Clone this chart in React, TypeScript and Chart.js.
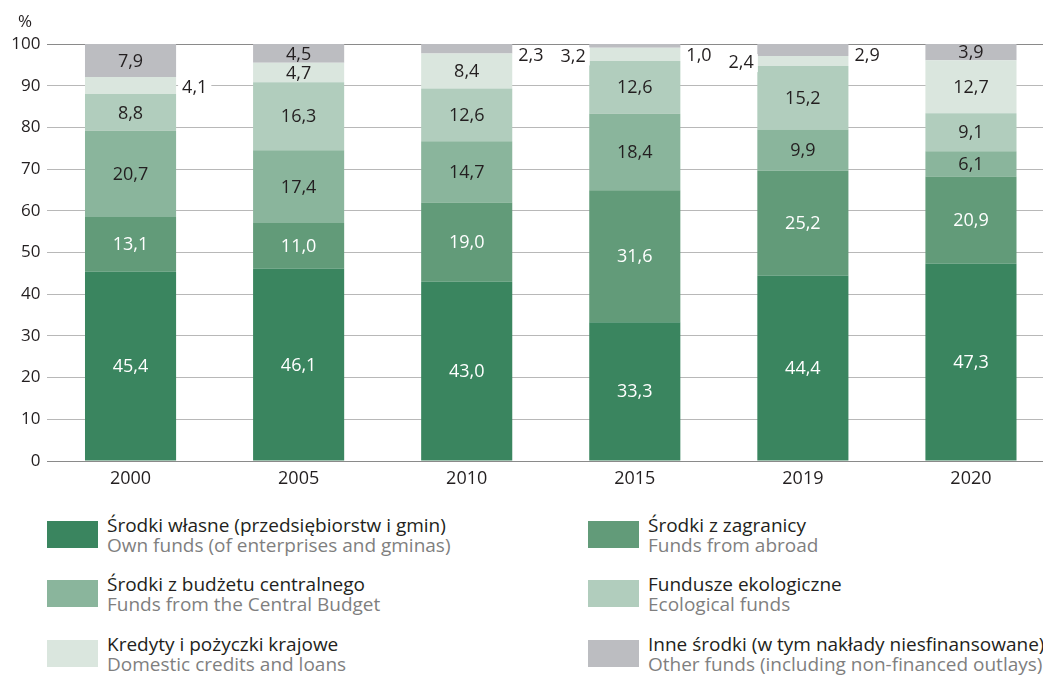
import React, { useEffect, useRef } from "react";
import { Chart, registerables } from "chart.js";

Chart.register(...registerables);

const years = ["2000", "2005", "2010", "2015", "2019", "2020"];
const ownFunds = [45.4, 46.1, 43.0, 33.3, 44.4, 47.3];
const fundsAbroad = [13.1, 11.0, 19.0, 31.6, 25.2, 20.9];
const centralBudget = [20.7, 17.4, 14.7, 18.4, 9.9, 6.1];
const ecoFunds = [8.8, 16.3, 12.6, 12.6, 15.2, 9.1];
const domesticCredits = [4.1, 4.7, 8.4, 3.2, 2.4, 12.7];
const otherFunds = [7.9, 4.5, 2.3, 1.0, 2.9, 3.9];
const yTicks = [0, 10, 20, 30, 40, 50, 60, 70, 80, 90, 100];

const seriesPL = [
  "Środki własne (przedsiębiorstw i gmin)",
  "Środki z zagranicy",
  "Środki z budżetu centralnego",
  "Fundusze ekologiczne",
  "Kredyty i pożyczki krajowe",
  "Inne środki (w tym nakłady niesfinansowane)",
];
const seriesEN = [
  "Own funds (of enterprises and gminas)",
  "Funds from abroad",
  "Funds from the Central Budget",
  "Ecological funds",
  "Domestic credits and loans",
  "Other funds (including non-financed outlays)",
];
const colors = ["#3a855f", "#629b79", "#8ab59c", "#b1cdbd", "#dae6de", "#bcbdc1"];
const labelColors = ["#ffffff", "#ffffff", "#231f20", "#231f20", "#231f20", "#231f20"];
// labels placed beside the bar: key "dataset-index" -> side
const outsideLabels: Record<string, "left" | "right"> = {
  "4-0": "right",
  "5-2": "right",
  "4-3": "left",
  "5-3": "right",
  "4-4": "left",
  "5-4": "right",
};

const FONT = "'Open Sans', 'DejaVu Sans', sans-serif";

const labelPlugin = {
  id: "valueLabels",
  afterDatasetsDraw(chart: any) {
    const ctx = chart.ctx;
    ctx.save();
    ctx.font = `18px ${FONT}`;
    ctx.textBaseline = "middle";
    chart.data.datasets.forEach((ds: any, di: number) => {
      const meta = chart.getDatasetMeta(di);
      meta.data.forEach((bar: any, i: number) => {
        const v = ds.data[i] as number;
        const text = v.toFixed(1).replace(".", ",");
        const center = (bar.y + bar.base) / 2;
        const side = outsideLabels[`${di}-${i}`];
        if (side) {
          const y = Math.max(center, chart.chartArea.top + 10) + 2;
          const w = ctx.measureText(text).width;
          let x: number;
          if (side === "right") {
            x = bar.x + bar.width / 2 + 6;
          } else {
            x = bar.x - bar.width / 2 - 3.5 - w;
          }
          ctx.fillStyle = "#ffffff";
          ctx.fillRect(x - 4, y - 9, w + 8, 18);
          ctx.fillStyle = "#231f20";
          ctx.textAlign = "left";
          ctx.fillText(text, x, y);
        } else {
          ctx.fillStyle = labelColors[di];
          ctx.textAlign = "center";
          ctx.fillText(text, bar.x, center + 1);
        }
      });
    });
    ctx.font = `17px ${FONT}`;
    ctx.fillStyle = "#231f20";
    ctx.textAlign = "center";
    ctx.fillText("%", 25, 22);
    ctx.restore();
  },
};

function ChartCanvas() {
  const ref = useRef<HTMLCanvasElement | null>(null);
  useEffect(() => {
    if (!ref.current) return;
    const seriesData = [ownFunds, fundsAbroad, centralBudget, ecoFunds, domesticCredits, otherFunds];
    const chart = new Chart(ref.current, {
      type: "bar",
      data: {
        labels: years,
        datasets: seriesData.map((d, i) => ({
          label: seriesPL[i],
          data: d,
          backgroundColor: colors[i],
          borderWidth: 0,
          barPercentage: 1,
          categoryPercentage: 0.542,
        })),
      },
      options: {
        responsive: false,
        animation: false,
        layout: { padding: { top: 44, left: 0, right: 0, bottom: 0 } },
        plugins: { legend: { display: false }, tooltip: { enabled: false } },
        scales: {
          x: {
            stacked: true,
            grid: { display: false, drawTicks: false },
            border: { display: false },
            ticks: { font: { family: FONT, size: 18 }, color: "#231f20", padding: 7 },
            afterFit: (s: any) => {
              s.height = 30;
            },
          },
          y: {
            stacked: true,
            min: 0,
            max: 100,
            afterBuildTicks: (s: any) => {
              s.ticks = yTicks.map((v) => ({ value: v }));
            },
            grid: {
              drawTicks: false,
              color: (c: any) => (c.tick && (c.tick.value === 100 || c.tick.value === 0) ? "#8a8a8a" : "#b8b8b8"),
              lineWidth: 1,
            },
            border: { display: false },
            ticks: { font: { family: FONT, size: 17 }, color: "#231f20", padding: 6 },
            afterFit: (s: any) => {
              s.width = 46.5;
            },
          },
        },
      },
      plugins: [labelPlugin],
    });
    return () => chart.destroy();
  }, []);
  return <canvas ref={ref} width={1055} height={491} style={{ display: "block", width: 1055, height: 491 }} />;
}

function LegendItem({ i, x, y }: { i: number; x: number; y: number }) {
  return (
    <div style={{ position: "absolute", left: x, top: y, whiteSpace: "nowrap" }}>
      <div style={{ position: "absolute", left: 0, top: 6, width: 51, height: 27, background: colors[i] }} />
      <div style={{ position: "absolute", left: 60, top: 0, fontFamily: FONT, fontSize: 19, lineHeight: "21px", color: "#231f20" }}>
        {seriesPL[i]}
      </div>
      <div style={{ position: "absolute", left: 60, top: 20, fontFamily: FONT, fontSize: 19, lineHeight: "21px", color: "#7f7f7f" }}>
        {seriesEN[i]}
      </div>
    </div>
  );
}

export default function App() {
  return (
    <div style={{ position: "absolute", left: 0, top: 0, width: 1043, height: 675, overflow: "hidden", background: "#fff" }}>
      <div style={{ position: "absolute", left: 0, top: 0 }}>
        <ChartCanvas />
      </div>
      <LegendItem i={0} x={47} y={515} />
      <LegendItem i={2} x={47} y={574} />
      <LegendItem i={4} x={47} y={634} />
      <LegendItem i={1} x={588} y={515} />
      <LegendItem i={3} x={588} y={574} />
      <LegendItem i={5} x={588} y={634} />
    </div>
  );
}
